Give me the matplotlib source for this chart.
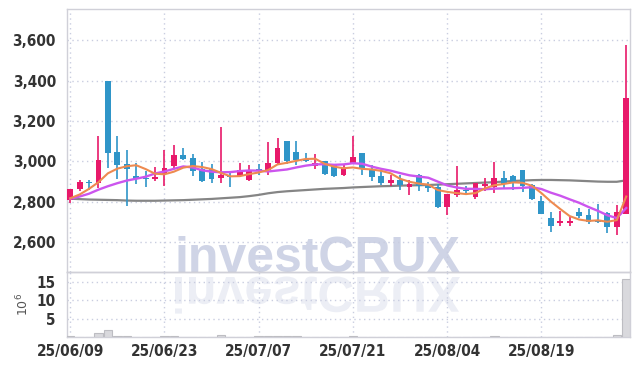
import matplotlib
matplotlib.use("Agg")
import matplotlib.pyplot as plt
import numpy as np
from matplotlib.textpath import TextPath
from matplotlib.patches import PathPatch
from matplotlib.font_manager import FontProperties
from matplotlib.transforms import Affine2D, IdentityTransform

# trading days shown (index based x axis)
tick_pos = [0, 10, 20, 30, 40, 50]
tick_labels = ['25/06/09', '25/06/23', '25/07/07', '25/07/21', '25/08/04', '25/08/19']

opens = [2810, 2862, 2900, 2892, 3400, 3045, 2985, 2930, 2915, 2912,
         2940, 2975, 3030, 3015, 2963, 2962, 2917, 2930, 2927, 2909,
         2963, 2955, 2992, 3100, 3045, 3013, 2977, 3000, 2983, 2934,
         2993, 3040, 2963, 2930, 2893, 2910, 2872, 2934, 2876, 2875,
         2776, 2832, 2860, 2826, 2879, 2875, 2919, 2930, 2955, 2885,
         2806, 2722, 2693, 2693, 2747, 2733, 2708, 2745, 2673, 2740]
highs = [2865, 2910, 2910, 3125, 3400, 3128, 3058, 2992, 2950, 2972,
         3055, 3083, 3066, 3038, 2997, 2988, 3168, 2948, 2993, 2980,
         2985, 3096, 3115, 3100, 3103, 3043, 3038, 3000, 2985, 2988,
         3125, 3042, 2983, 2957, 2935, 2933, 2910, 2937, 2897, 2890,
         2840, 2975, 2880, 2895, 2920, 2997, 2953, 2932, 2957, 2887,
         2830, 2747, 2752, 2728, 2770, 2764, 2790, 2748, 2786, 3578]
lows = [2795, 2852, 2860, 2870, 2965, 2912, 2780, 2890, 2872, 2905,
        2880, 2965, 3005, 2930, 2900, 2895, 2892, 2875, 2922, 2905,
        2935, 2935, 2985, 2985, 2982, 2997, 2964, 2934, 2925, 2930,
        2990, 2935, 2902, 2882, 2880, 2858, 2835, 2852, 2848, 2769,
        2735, 2822, 2845, 2812, 2855, 2843, 2862, 2860, 2847, 2810,
        2738, 2650, 2680, 2678, 2722, 2690, 2693, 2645, 2636, 2738]
closes = [2865, 2900, 2893, 3005, 3040, 2982, 2962, 2915, 2912, 2925,
          2965, 3030, 3012, 2952, 2902, 2915, 2934, 2925, 2958, 2955,
          2955, 2990, 3065, 3000, 3005, 3002, 2994, 2940, 2927, 2967,
          3020, 2963, 2922, 2892, 2910, 2883, 2886, 2877, 2868, 2776,
          2836, 2859, 2852, 2892, 2889, 2919, 2890, 2892, 2880, 2812,
          2740, 2681, 2707, 2706, 2727, 2702, 2698, 2673, 2747, 3312]
# volume in millions
volumes = [0.15, 0.1, 0.1, 1.2, 1.9, 0.3, 0.2, 0.1, 0.1, 0.1,
           0.2, 0.3, 0.1, 0.1, 0.1, 0.1, 0.6, 0.1, 0.1, 0.1,
           0.2, 0.3, 0.3, 0.3, 0.2, 0.1, 0.1, 0.1, 0.1, 0.1,
           0.3, 0.1, 0.1, 0.1, 0.1, 0.1, 0.1, 0.1, 0.1, 0.1,
           0.1, 0.1, 0.1, 0.1, 0.1, 0.3, 0.1, 0.1, 0.1, 0.1,
           0.1, 0.1, 0.1, 0.1, 0.1, 0.1, 0.1, 0.1, 0.6, 15.9]

ma5 = [2817, 2836, 2864, 2897, 2941, 2964, 2976, 2981, 2962, 2939,
       2936, 2949, 2969, 2977, 2972, 2962, 2943, 2926, 2927, 2937,
       2945, 2957, 2985, 2993, 3003, 3012, 3013, 2988, 2974, 2966,
       2970, 2963, 2960, 2953, 2941, 2914, 2899, 2890, 2885, 2858,
       2849, 2843, 2838, 2843, 2866, 2882, 2888, 2896, 2894, 2879,
       2843, 2801, 2764, 2729, 2712, 2705, 2708, 2701, 2709, 2826]
ma10 = [2815, 2826, 2840, 2860, 2877, 2892, 2905, 2914, 2924, 2940,
        2950, 2963, 2975, 2970, 2956, 2949, 2946, 2947, 2952, 2955,
        2954, 2950, 2955, 2960, 2970, 2979, 2985, 2986, 2983, 2985,
        2991, 2988, 2974, 2963, 2954, 2942, 2931, 2925, 2919, 2900,
        2881, 2871, 2864, 2864, 2862, 2865, 2866, 2867, 2869, 2872,
        2863, 2845, 2830, 2812, 2795, 2774, 2755, 2733, 2719, 2769]
ma60 = [2815, 2813, 2811, 2810, 2809, 2808, 2806, 2805, 2805, 2805,
        2806, 2807, 2808, 2810, 2812, 2814, 2817, 2820, 2823, 2828,
        2834, 2842, 2848, 2852, 2855, 2858, 2861, 2864, 2866, 2868,
        2871, 2873, 2875, 2877, 2878, 2880, 2881, 2882, 2883, 2885,
        2887, 2889, 2891, 2893, 2895, 2897, 2900, 2903, 2905, 2907,
        2908, 2908, 2907, 2906, 2904, 2902, 2900, 2899, 2899, 2906]

UP = '#e8196a'
DOWN = '#2f95c8'
GRID = '#c9cde0'
SPINE = '#d0d0d8'
TXT = '#333333'

plt.rcParams['font.family'] = ['DejaVu Sans']

W, H = 639, 366
fig = plt.figure(figsize=(W / 100, H / 100), dpi=100)
ax = fig.add_axes([67 / W, (H - 272) / H, 563 / W, 263 / H])
axv = fig.add_axes([67 / W, (H - 337) / H, 563 / W, 65 / H], sharex=ax)
for a in (ax, axv):
    a.set_facecolor('none')

xs = np.arange(len(closes))
for i in xs:
    o, h, l, c = opens[i], highs[i], lows[i], closes[i]
    col = UP if c >= o else DOWN
    ax.vlines(i, l, h, color=col, lw=1.2, zorder=3)
    body = max(abs(c - o), 4)
    ax.bar(i, body, bottom=min(o, c), width=0.62, color=col, zorder=4)

ax.plot(xs, ma60, color='#858585', lw=1.6, zorder=2)
ax.plot(xs, ma10, color='#cc55ee', lw=1.7, zorder=5)
ax.plot(xs, ma5, color='#ee8a50', lw=1.5, zorder=6)

ax.set_ylim(2452, 3755)
ax.set_yticks([2600, 2800, 3000, 3200, 3400, 3600])
ax.set_yticklabels(['2,600', '2,800', '3,000', '3,200', '3,400', '3,600'])
ax.set_xlim(-0.34, 59.4)

axv.bar(xs, volumes, width=0.9, color='#d9d9dd', edgecolor='#bdbdc2', lw=0.8, zorder=3)
axv.set_ylim(0, 17.7)
axv.set_yticks([5, 10, 15])
axv.set_ylabel(r'$10^6$', fontsize=9, color='#555555', labelpad=4)
axv.set_xticks(tick_pos)
axv.set_xticklabels(tick_labels)

for a in (ax, axv):
    a.grid(True, color=GRID, ls=(0, (1, 2.5)), lw=1)
    a.set_axisbelow(True)
    a.tick_params(length=0, labelsize=11, labelcolor=TXT, pad=8)
    for s in a.spines.values():
        s.set_color(SPINE)
        s.set_linewidth(1)
ax.tick_params(axis='x', labelbottom=False)
axv.tick_params(axis='x', pad=5)
for lab in ax.get_yticklabels() + axv.get_yticklabels() + axv.get_xticklabels():
    lab.set_fontweight('bold')
    lab.set_fontstretch('condensed')
ax.spines['bottom'].set_color('#c8c8cc')

# watermark: real text plus a mirrored reflection underneath
fig.text(175 / W, (H - 272) / H, 'investCRUX', fontsize=36, fontweight='bold',
         family='Liberation Sans', color='#cfd4e6', ha='left', va='baseline', zorder=-1)
prop = FontProperties(family='Liberation Sans', weight='bold')
tp = TextPath((0, 0), 'investCRUX', size=50, prop=prop)
bb = tp.get_extents()
sx = (460 - 175) / bb.width
t_refl = Affine2D().translate(-bb.x0, 0).scale(sx, -sx).translate(175, H - 277)
fig.patches.append(PathPatch(t_refl.transform_path(tp), transform=IdentityTransform(),
                             facecolor='#eceef5', edgecolor='none', zorder=-1))

fig.savefig('out.png', dpi=100)
